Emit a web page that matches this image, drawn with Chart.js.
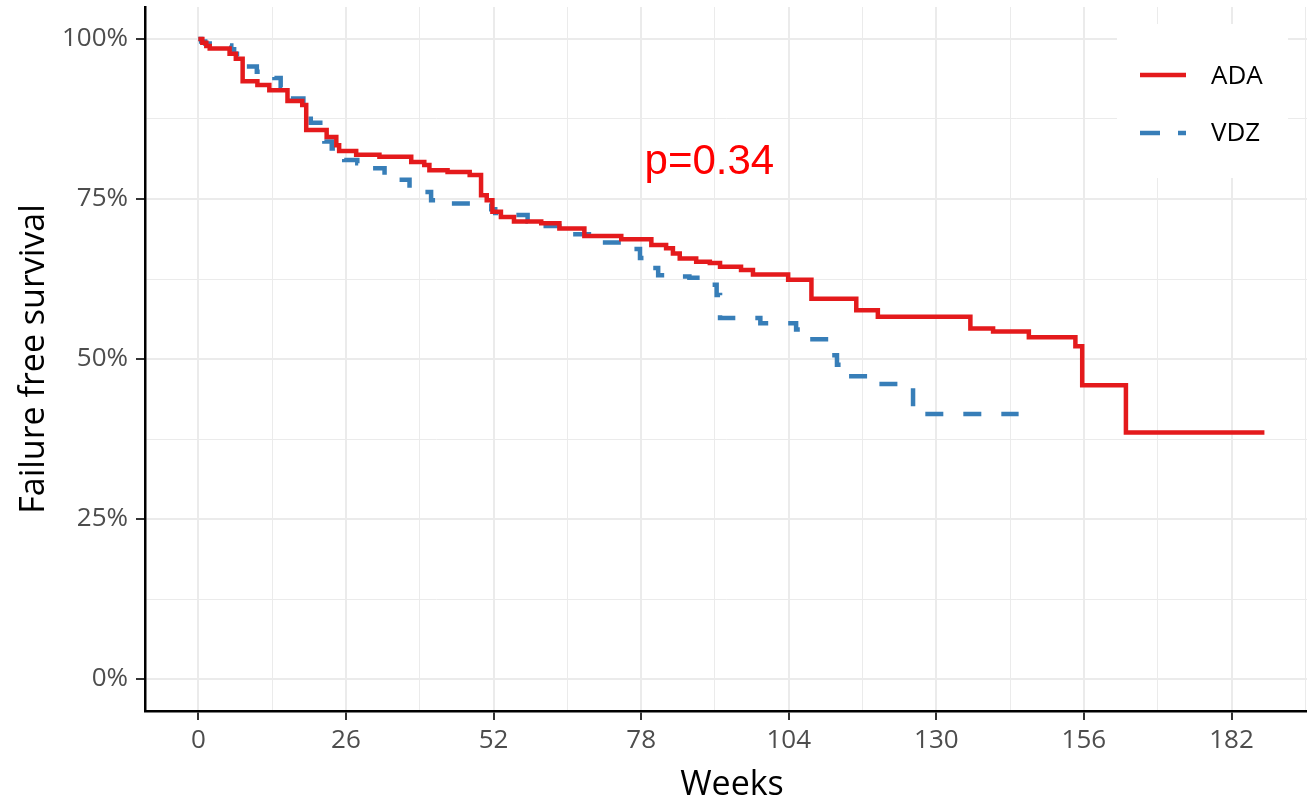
<!DOCTYPE html>
<html>
<head>
<meta charset="utf-8">
<script src="https://cdn.jsdelivr.net/npm/chart.js@4.4.1/dist/chart.umd.min.js"></script>
<style>
  html, body { margin: 0; padding: 0; background: #fff; }
  canvas { display: block; }
</style>
</head>
<body>
<canvas id="kmChart" width="1307" height="799"></canvas>
<script>
// Kaplan-Meier estimates (weeks, % failure free)
var adaWeeks = [0, 0.7, 1.4, 2.0, 5.5, 6.6, 7.8, 10.4, 12.5, 15.7, 18.3, 19.0, 22.6, 24.3, 24.8, 27.8, 31.9, 37.5, 39.8, 40.7,
    43.9, 47.8, 49.8, 50.8, 51.8, 53.3, 55.6, 60.4, 63.6, 68.0, 74.5, 79.8, 82.4, 83.6, 84.8, 87.7, 90.1, 91.9, 95.6, 97.7,
    103.9, 108.0, 115.9, 119.7, 136.0, 140.0, 146.3, 154.5, 155.7, 163.4, 187.8];
var adaSurv = [100, 99.4, 98.9, 98.5, 97.7, 96.9, 93.4, 92.8, 92.0, 90.3, 89.7, 85.8, 84.7, 83.4, 82.5, 81.9, 81.6, 80.8, 80.3, 79.5,
    79.2, 78.75, 75.6, 74.8, 73.0, 72.2, 71.5, 71.2, 70.4, 69.2, 68.7, 67.8, 67.3, 66.5, 65.7, 65.2, 65.0, 64.4, 63.9, 63.2,
    62.4, 59.4, 57.6, 56.6, 54.75, 54.3, 53.4, 52.0, 45.9, 38.5, 38.5];

var vdzWeeks = [0, 0.5, 1.2, 2.0, 5.8, 6.3, 6.8, 7.5, 10.3, 13.4, 14.5, 16.3, 18.5, 19.4, 19.8, 22.2, 23.5, 25.7, 28.0, 30.4,
    32.8, 35.4, 37.2, 39.8, 41.0, 43.0, 51.6, 52.3, 53.5, 58.0, 59.5, 64.5, 70.5, 76.5, 77.8, 79.8, 81.0, 84.5, 86.5, 90.0,
    91.3, 91.9, 99.0, 105.3, 107.5, 111.3, 112.5, 114.0, 119.8, 125.9, 144.5];
var vdzSurv = [100, 99.6, 99.3, 99.0, 98.4, 97.7, 97.0, 95.7, 94.9, 93.9, 92.5, 90.7, 90.0, 87.9, 86.9, 84.0, 82.9, 81.1, 80.6, 79.8,
    78.75, 78.0, 76.7, 76.1, 74.8, 74.3, 73.4, 72.8, 72.5, 71.5, 70.8, 69.5, 68.2, 67.2, 65.8, 64.2, 63.1, 62.9, 62.7, 61.6,
    60.0, 56.4, 55.6, 54.6, 53.1, 50.6, 49.1, 47.3, 46.1, 41.4, 41.4];

var seriesNames = ['ADA', 'VDZ'];
var xTicks = [0, 13, 26, 39, 52, 65, 78, 91, 104, 117, 130, 143, 156, 169, 182, 195];
var yTicks = [0, 12.5, 25, 37.5, 50, 62.5, 75, 87.5, 100];
var pLabel = 'p=0.34';
var xTitle = 'Weeks';
var yTitle = 'Failure free survival';

var RED = '#E41A1C';
var BLUE = '#377EB8';

function toPoints(xs, ys) {
    return xs.map(function (x, i) { return { x: x, y: ys[i] }; });
}

function isMajorX(v) { return v % 26 === 0; }
function isMajorY(v) { return v % 25 === 0; }

// legend, axis titles and p-value drawn on top of the plot
var overlay = {
    id: 'overlay',
    afterDatasetsDraw: function (chart) {
        var ctx = chart.ctx;
        var xs = chart.scales.x, ys = chart.scales.y;
        ctx.save();

        // legend box
        ctx.fillStyle = '#fff';
        ctx.fillRect(1117, 24, 171, 154);
        ctx.lineWidth = 4.5;
        ctx.lineCap = 'butt';
        ctx.strokeStyle = RED;
        ctx.beginPath(); ctx.moveTo(1140, 75); ctx.lineTo(1186, 75); ctx.stroke();
        ctx.strokeStyle = BLUE;
        ctx.beginPath(); ctx.moveTo(1140, 133); ctx.lineTo(1160, 133); ctx.stroke();
        ctx.beginPath(); ctx.moveTo(1178, 133); ctx.lineTo(1186, 133); ctx.stroke();
        ctx.fillStyle = '#000';
        ctx.font = '26px "Open Sans"';
        ctx.textAlign = 'left';
        ctx.textBaseline = 'middle';
        ctx.fillText(seriesNames[0], 1211, 77);
        ctx.fillText(seriesNames[1], 1211, 134);

        // p value
        ctx.fillStyle = '#FF0000';
        ctx.font = '42px "Liberation Sans"';
        ctx.textBaseline = 'alphabetic';
        ctx.fillText(pLabel, xs.getPixelForValue(78.6), ys.getPixelForValue(78.9));

        // axis titles
        ctx.fillStyle = '#000';
        ctx.font = '34px "Open Sans"';
        ctx.textAlign = 'center';
        ctx.fillText(xTitle, (chart.chartArea.left + chart.chartArea.right) / 2 + 6, 795);
        ctx.translate(44, (chart.chartArea.top + chart.chartArea.bottom) / 2);
        ctx.rotate(-Math.PI / 2);
        ctx.fillText(yTitle, 0, 0);
        ctx.restore();
    }
};

var kmChart = new Chart(document.getElementById('kmChart'), {
    type: 'line',
    data: {
        datasets: [
            {
                label: seriesNames[0],
                data: toPoints(adaWeeks, adaSurv),
                borderColor: RED,
                borderWidth: 4.5,
                stepped: 'before',
                pointRadius: 0,
                fill: false
            },
            {
                label: seriesNames[1],
                data: toPoints(vdzWeeks, vdzSurv),
                borderColor: BLUE,
                borderWidth: 4.5,
                borderDash: [18, 20],
                borderCapStyle: 'butt',
                stepped: 'before',
                pointRadius: 0,
                fill: false
            }
        ]
    },
    options: {
        responsive: false,
        animation: false,
        devicePixelRatio: 1,
        layout: { padding: { top: 7, right: 0, left: 0, bottom: 0 } },
        plugins: {
            legend: { display: false },
            tooltip: { enabled: false }
        },
        scales: {
            x: {
                type: 'linear',
                min: -9.4,
                max: 195.3,
                afterFit: function (scale) {
                    scale.height = 88;
                    scale.paddingLeft = 0;
                    scale.paddingRight = 0;
                },
                afterBuildTicks: function (scale) {
                    scale.ticks = xTicks.map(function (v) { return { value: v }; });
                },
                border: { color: '#000', width: 2.5 },
                grid: {
                    color: '#EBEBEB',
                    lineWidth: function (c) { return isMajorX(c.tick.value) ? 2 : 1; },
                    tickColor: function (c) { return isMajorX(c.tick.value) ? '#333' : 'rgba(0,0,0,0)'; },
                    tickLength: 9,
                    tickWidth: 2
                },
                ticks: {
                    autoSkip: false,
                    maxRotation: 0,
                    padding: 5,
                    color: '#4D4D4D',
                    font: { family: 'Open Sans', size: 26 },
                    callback: function (v) { return isMajorX(v) ? String(v) : ''; }
                }
            },
            y: {
                min: -5,
                max: 105,
                afterFit: function (scale) {
                    scale.width = 145;
                    scale.paddingTop = 0;
                    scale.paddingBottom = 0;
                },
                afterBuildTicks: function (scale) {
                    scale.ticks = yTicks.map(function (v) { return { value: v }; });
                },
                border: { color: '#000', width: 2.5 },
                grid: {
                    color: '#EBEBEB',
                    lineWidth: function (c) { return isMajorY(c.tick.value) ? 2 : 1; },
                    tickColor: function (c) { return isMajorY(c.tick.value) ? '#333' : 'rgba(0,0,0,0)'; },
                    tickLength: 9,
                    tickWidth: 2
                },
                ticks: {
                    autoSkip: false,
                    padding: 8,
                    color: '#4D4D4D',
                    font: { family: 'Open Sans', size: 26 },
                    callback: function (v) { return isMajorY(v) ? v + '%' : ''; }
                }
            }
        }
    },
    plugins: [overlay]
});
</script>
</body>
</html>
